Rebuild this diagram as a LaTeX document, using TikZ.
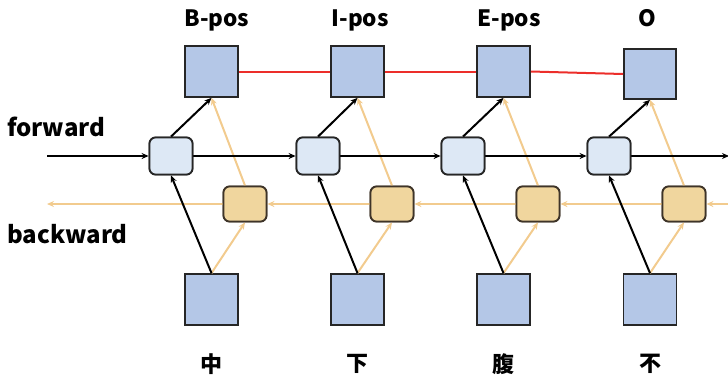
\documentclass[tikz,border=0pt]{standalone}
\usepackage{fontspec}
\newfontfamily\cjk{Noto Sans CJK SC}
\usetikzlibrary{arrows.meta}
\definecolor{cellblue}{HTML}{B4C7E7}
\definecolor{fwdfill}{HTML}{DDE8F5}
\definecolor{bwdfill}{HTML}{F0D69E}
\definecolor{tanline}{HTML}{F2CB8E}
\definecolor{boxedge}{HTML}{262626}
\definecolor{bwdedge}{HTML}{3E3428}
\definecolor{crfred}{HTML}{EC2E2A}
\tikzset{
  x=1pt, y=-1pt,
  every node/.style={font=\cjk\bfseries},
  cell/.style={draw=boxedge, line width=1.8pt, fill=cellblue, minimum width=53pt, minimum height=51pt, inner sep=0pt},
  fwdcell/.style={draw=boxedge, line width=1.8pt, fill=fwdfill, rounded corners=6pt, minimum width=43pt, minimum height=37pt, inner sep=0pt},
  bwdcell/.style={draw=bwdedge, line width=1.8pt, fill=bwdfill, rounded corners=6pt, minimum width=43pt, minimum height=35pt, inner sep=0pt},
  fwdarrow/.style={draw=black, line width=2pt, -{Stealth[length=7pt,width=6pt]}},
  bwdarrow/.style={draw=tanline, line width=2pt, -{Stealth[length=7pt,width=6pt]}},
  crfline/.style={draw=crfred, line width=2pt},
  taglabel/.style={font=\cjk\bfseries\fontsize{22.5}{26}\selectfont, anchor=base},
  dirlabel/.style={font=\cjk\bfseries\fontsize{24}{27}\selectfont, anchor=base west, inner sep=0pt},
  charlabel/.style={font=\cjk\bfseries\fontsize{22}{25}\selectfont}
}
\begin{document}
\begin{tikzpicture}
\useasboundingbox (0,0) rectangle (728,381);

% output tags
\node[cell] (t1) at (211.5,71.5) {};
\node[cell] (t2) at (357.5,71.5) {};
\node[cell] (t3) at (503.5,71.5) {};
\node[cell, minimum width=52pt, minimum height=50pt] (t4) at (650,74) {};

% forward cells
\node[fwdcell] (f1) at (171,156) {};
\node[fwdcell] (f2) at (318,156) {};
\node[fwdcell] (f3) at (463,156) {};
\node[fwdcell] (f4) at (609,156) {};

% backward cells
\node[bwdcell] (b1) at (245,204) {};
\node[bwdcell] (b2) at (392,204) {};
\node[bwdcell] (b3) at (538,204) {};
\node[bwdcell] (b4) at (684,204) {};

% input embeddings
\node[cell] (x1) at (211.5,299.5) {};
\node[cell] (x2) at (357.5,299.5) {};
\node[cell] (x3) at (503.5,299.5) {};
\node[cell] (x4) at (650,299.5) {};

% labels
\node[taglabel] (l1) at (217,26) {B-pos};
\node[taglabel] (l2) at (360,26) {I-pos};
\node[taglabel] (l3) at (509,26) {E-pos};
\node[taglabel] (l4) at (647,26) {O};
\node[dirlabel] (fw) at (7,136) {forward};
\node[dirlabel] (bw) at (7,243) {backward};
\node[charlabel] (c1) at (211,364) {中};
\node[charlabel] (c2) at (357,364) {下};
\node[charlabel] (c3) at (503,364) {腹};
\node[charlabel] (c4) at (650,364) {不};

% chain ends
\coordinate (fin) at (47,156);
\coordinate (fout) at (729,156);
\coordinate (bin) at (728,204);
\coordinate (bout) at (47,204);

% CRF transitions between tags
\draw[crfline] (t1.east) -- (t2.west);
\draw[crfline] (t2.east) -- (t3.west);
\draw[crfline] (t3.east) -- (t4.west);

% backward chain and its links
\draw[bwdarrow] (bin) -- (b4.east);
\draw[bwdarrow] (b4.west) -- (b3.east);
\draw[bwdarrow] (b3.west) -- (b2.east);
\draw[bwdarrow] (b2.west) -- (b1.east);
\draw[bwdarrow] (b1.west) -- (bout);
\foreach \i in {1,2,3,4} {
  \draw[bwdarrow] (x\i.north) -- (b\i.south);
  \draw[bwdarrow] (b\i.north) -- (t\i.south);
}

% forward chain and its links
\draw[fwdarrow] (fin) -- (f1.west);
\draw[fwdarrow] (f1.east) -- (f2.west);
\draw[fwdarrow] (f2.east) -- (f3.west);
\draw[fwdarrow] (f3.east) -- (f4.west);
\draw[fwdarrow] (f4.east) -- (fout);
\foreach \i in {1,2,3,4} {
  \draw[fwdarrow] (x\i.north) -- (f\i.south);
  \draw[fwdarrow] (f\i.north) -- (t\i.south);
}

% redraw cells above the crossing lines
\foreach \i in {1,2,3,4} {
  \node[fwdcell] at (f\i) {};
  \node[bwdcell] at (b\i) {};
}
\end{tikzpicture}
\end{document}
